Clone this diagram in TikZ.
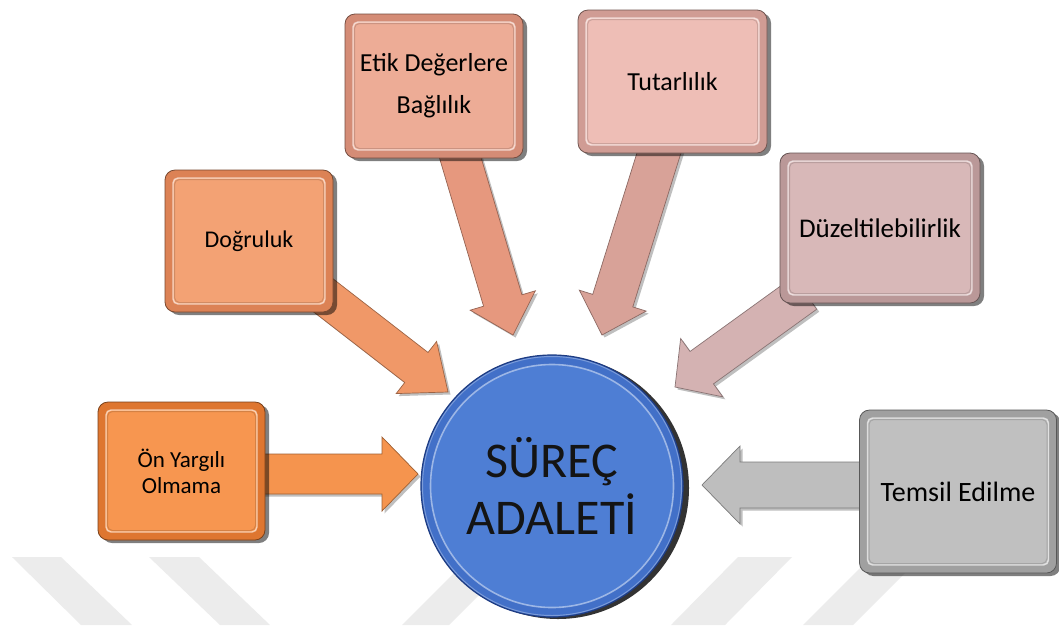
\documentclass[tikz,border=0pt]{standalone}
\usepackage{fontspec}
\setmainfont{Carlito}
\usetikzlibrary{calc,shadows}

\definecolor{onface}{RGB}{247,150,80}
\definecolor{onedge}{RGB}{222,118,48}
\definecolor{dogface}{RGB}{243,162,116}
\definecolor{dogedge}{RGB}{220,130,85}
\definecolor{etface}{RGB}{237,172,150}
\definecolor{etedge}{RGB}{212,140,118}
\definecolor{tutface}{RGB}{238,190,182}
\definecolor{tutedge}{RGB}{208,156,148}
\definecolor{duzface}{RGB}{216,184,184}
\definecolor{duzedge}{RGB}{186,152,152}
\definecolor{temface}{RGB}{192,192,192}
\definecolor{temedge}{RGB}{160,160,160}
\definecolor{onarr}{RGB}{245,148,78}
\definecolor{dogarr}{RGB}{240,152,104}
\definecolor{etarr}{RGB}{230,152,126}
\definecolor{tutarr}{RGB}{216,162,152}
\definecolor{duzarr}{RGB}{212,178,178}
\definecolor{temarr}{RGB}{190,190,190}
\definecolor{circblue}{RGB}{78,126,212}
\definecolor{circrim}{RGB}{66,112,200}
\definecolor{circdark}{RGB}{30,60,130}
\definecolor{mark}{RGB}{236,236,236}

\tikzset{
  bbox/.style 2 args={rectangle, rounded corners=10pt, inner sep=0pt, align=center,
    fill=#2, draw=#2!55!black, line width=0.8pt,
    drop shadow={shadow xshift=4pt, shadow yshift=-3pt, fill=black, opacity=0.5},
    path picture={
      \path[rounded corners=5pt, fill=#1, draw=white, draw opacity=0.6, line width=1.4pt]
        ([shift={(8pt,8pt)}]path picture bounding box.south west) rectangle
        ([shift={(-8pt,-8pt)}]path picture bounding box.north east);
      \draw[#1!60!black, opacity=0.35, line width=1pt, rounded corners=5pt]
        ([shift={(9.5pt,9.5pt)}]path picture bounding box.south west) rectangle
        ([shift={(-9.5pt,-9.5pt)}]path picture bounding box.north east);
    }},
  fatarrow/.style={line width=0.7pt, line join=miter},
  stripe/.style={fill=mark, draw=none}
}

% block arrow from #1 to #2: shaft half width, head half width, head length, colour
\newcommand\fatarrow[6]{%
  \coordinate (fa-h) at ($(#2)!#5!(#1)$);
  \fill[black, opacity=0.25, transform canvas={shift={(2.5pt,-2.5pt)}}]
    ($(#1)!#3!90:(#2)$) -- ($(fa-h)!#3!-90:(#1)$) -- ($(fa-h)!#4!-90:(#1)$) -- (#2)
    -- ($(fa-h)!#4!90:(#1)$) -- ($(fa-h)!#3!90:(#1)$) -- ($(#1)!#3!-90:(#2)$) -- cycle;
  \filldraw[fatarrow, fill=#6, draw=#6!65!black]
    ($(#1)!#3!90:(#2)$) -- ($(fa-h)!#3!-90:(#1)$) -- ($(fa-h)!#4!-90:(#1)$) -- (#2)
    -- ($(fa-h)!#4!90:(#1)$) -- ($(fa-h)!#3!90:(#1)$) -- ($(#1)!#3!-90:(#2)$) -- cycle;
}

\begin{document}
\begin{tikzpicture}[x=1pt, y=-1pt]
  \useasboundingbox (0,0) rectangle (1059,625);
  \fill[white] (0,0) rectangle (1059,625);

  % faint diagonal stripes along the bottom edge
  \fill[stripe] (12,557) -- (61,557) -- (132,625) -- (81,625) -- cycle;
  \fill[stripe] (149,557) -- (199,557) -- (270,625) -- (220,625) -- cycle;
  \fill[stripe] (470,557) -- (517,557) -- (449,625) -- (402,625) -- cycle;
  \fill[stripe] (738,557) -- (792,557) -- (725,625) -- (671,625) -- cycle;
  \fill[stripe] (871,557) -- (921,557) -- (853,625) -- (803,625) -- cycle;

  % arrow end points
  \coordinate (onT) at (250,474);   \coordinate (onP) at (418,474);
  \coordinate (dogT) at (310,285);  \coordinate (dogP) at (448,392);
  \coordinate (etT) at (455,140);   \coordinate (etP) at (513,335);
  \coordinate (tutT) at (663,140);  \coordinate (tutP) at (602,335);
  \coordinate (duzT) at (805,293);  \coordinate (duzP) at (675,387);
  \coordinate (temT) at (880,485);  \coordinate (temP) at (702,485);

  \fatarrow{onT}{onP}{20pt}{37pt}{36pt}{onarr}
  \fatarrow{dogT}{dogP}{19pt}{33pt}{40pt}{dogarr}
  \fatarrow{etT}{etP}{20pt}{34pt}{36pt}{etarr}
  \fatarrow{tutT}{tutP}{21pt}{35pt}{36pt}{tutarr}
  \fatarrow{duzT}{duzP}{20pt}{36pt}{33pt}{duzarr}
  \fatarrow{temT}{temP}{23pt}{39pt}{38pt}{temarr}

  % boxes
  \node[bbox={onface}{onedge}, minimum width=167pt, minimum height=138pt,
        font=\fontsize{23pt}{26pt}\selectfont] (on) at (181.5,471) {Ön Yargılı\\Olmama};
  \node[bbox={dogface}{dogedge}, minimum width=168pt, minimum height=142pt,
        font=\fontsize{24pt}{28pt}\selectfont] (dog) at (249,241) {Doğruluk};
  \node[bbox={etface}{etedge}, minimum width=178pt, minimum height=144pt,
        font=\fontsize{26pt}{42pt}\selectfont] (et) at (434,86) {Etik Değerlere\\Bağlılık};
  \node[bbox={tutface}{tutedge}, minimum width=189pt, minimum height=143pt,
        font=\fontsize{26pt}{30pt}\selectfont] (tut) at (672.5,81.5) {Tutarlılık};
  \node[bbox={duzface}{duzedge}, minimum width=200pt, minimum height=150pt,
        font=\fontsize{27pt}{31pt}\selectfont] (duz) at (880,228) {Düzeltilebilirlik};
  \node[bbox={temface}{temedge}, minimum width=197pt, minimum height=163pt,
        font=\fontsize{28pt}{32pt}\selectfont] (tem) at (958,491.5) {Temsil Edilme};

  % central circle
  \node[circle, minimum size=262pt, inner sep=0pt, fill=circblue, draw=circdark, line width=1.2pt,
        drop shadow={shadow xshift=6pt, shadow yshift=-2pt, fill=black, opacity=0.8},
        path picture={
          \draw[circrim, line width=9pt] (path picture bounding box.center) circle (126.5pt);
          \draw[white, opacity=0.45, line width=1.6pt] (path picture bounding box.center) circle (121.5pt);
          \draw[white, opacity=0.3, line width=1pt] (path picture bounding box.center) circle (129.5pt);
        },
        align=center, text=black!92, font=\fontsize{50pt}{57pt}\selectfont] (proc) at (552,486) {SÜREÇ\\ADALETİ};
\end{tikzpicture}
\end{document}
